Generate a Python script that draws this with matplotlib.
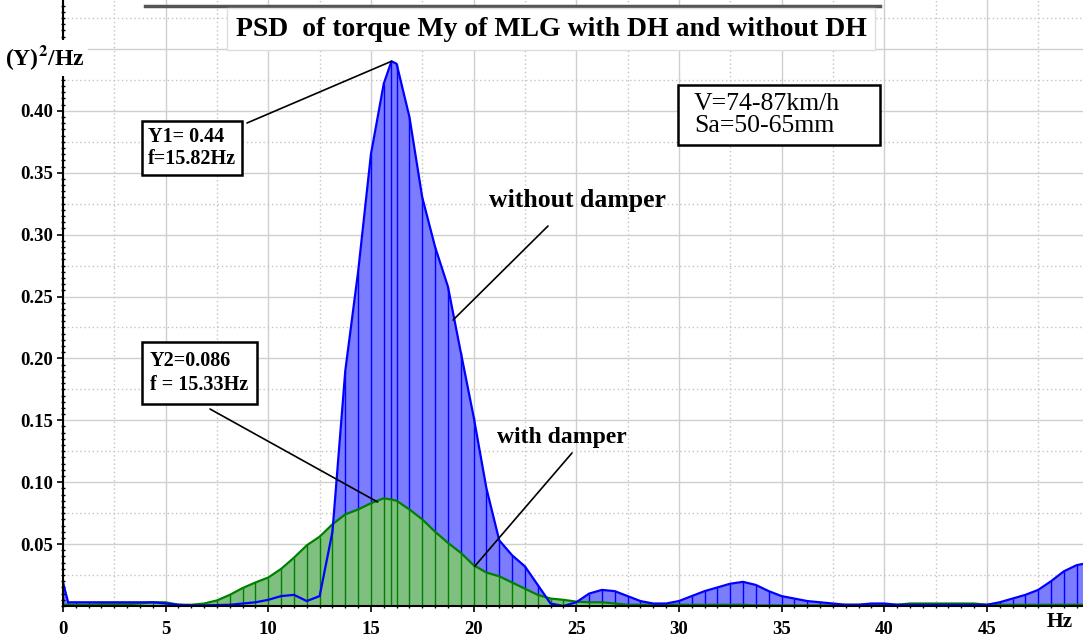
import numpy as np
import matplotlib
matplotlib.use("Agg")
import matplotlib.pyplot as plt
from matplotlib.ticker import MultipleLocator, FixedLocator
from matplotlib.lines import Line2D
from matplotlib.patches import Rectangle

plt.rcParams["font.family"] = ["Liberation Serif", "DejaVu Serif"]
plt.rcParams["mathtext.fontset"] = "stix"

# frequency grid (Hz) of the PSD samples
freq = [0.0, 0.25, 0.625, 1.25, 1.875, 2.5, 3.125, 3.75, 4.375, 5.0, 5.625,
        6.25, 6.875, 7.5, 8.125, 8.75, 9.375, 10.0, 10.625, 11.25, 11.875,
        12.5, 13.125, 13.75, 14.375, 15.0, 15.625, 16.0, 16.25, 16.875, 17.5,
        18.125, 18.75, 19.375, 20.0, 20.625, 21.25, 21.875, 22.5, 23.125, 23.75,
        24.375, 25.0, 25.625, 26.25, 26.875, 27.5, 28.125, 28.75, 29.375, 30.0,
        30.625, 31.25, 31.875, 32.5, 33.125, 33.75, 34.375, 35.0, 35.625, 36.25,
        36.875, 37.5, 38.125, 38.75, 39.375, 40.0, 40.625, 41.25, 41.875, 42.5,
        43.125, 43.75, 44.375, 45.0, 45.625, 46.25, 46.875, 47.5, 48.125, 48.75,
        49.375, 50.0]

# without damper
psd_no = [0.019, 0.003, 0.003, 0.003, 0.003, 0.003, 0.003, 0.003, 0.003, 0.002, 0.001,
          0.0005, 0.0005, 0.0008, 0.001, 0.002, 0.003, 0.005, 0.008, 0.009, 0.004,
          0.008, 0.06, 0.19, 0.27, 0.365, 0.422, 0.44, 0.438, 0.395, 0.33,
          0.29, 0.258, 0.205, 0.153, 0.095, 0.053, 0.041, 0.032, 0.017, 0.002,
          0.0, 0.003, 0.010, 0.013, 0.012, 0.008, 0.004, 0.002, 0.002, 0.004,
          0.008, 0.012, 0.015, 0.018, 0.0195, 0.017, 0.012, 0.008, 0.006, 0.004,
          0.003, 0.002, 0.001, 0.001, 0.002, 0.002, 0.001, 0.001, 0.001, 0.001,
          0.001, 0.001, 0.001, 0.001, 0.003, 0.006, 0.009, 0.013, 0.020, 0.028,
          0.033, 0.035]

# with damper
psd_da = [0.001, 0.001, 0.001, 0.001, 0.0015, 0.0015, 0.0015, 0.002, 0.003, 0.003, 0.001,
          0.001, 0.002, 0.0045, 0.009, 0.0145, 0.019, 0.023, 0.030, 0.039, 0.049,
          0.056, 0.066, 0.074, 0.078, 0.083, 0.087, 0.086, 0.085, 0.078, 0.070,
          0.060, 0.051, 0.043, 0.033, 0.027, 0.024, 0.019, 0.014, 0.009, 0.006,
          0.005, 0.0035, 0.003, 0.003, 0.002, 0.001, 0.001, 0.001, 0.001, 0.001,
          0.001, 0.001, 0.001, 0.001, 0.001, 0.0005, 0.0005, 0.0005, 0.0005, 0.0005,
          0.0005, 0.0005, 0.001, 0.001, 0.001, 0.001, 0.001, 0.002, 0.002, 0.002,
          0.002, 0.002, 0.002, 0.001, 0.001, 0.001, 0.001, 0.001, 0.001, 0.001,
          0.001, 0.001]

x_ticks = [0, 5, 10, 15, 20, 25, 30, 35, 40, 45]
y_ticks = [0.05, 0.10, 0.15, 0.20, 0.25, 0.30, 0.35, 0.40]

freq = np.array(freq)
psd_no = np.array(psd_no)
psd_da = np.array(psd_da)

W, H = 1083, 639
fig = plt.figure(figsize=(W / 100, H / 100), dpi=100)
ax = fig.add_axes([63 / W, 33 / H, 1020 / W, 606 / H])

def fx(px):
    return px / W

def fy(py):
    return 1 - py / H

# grid: solid at majors, dotted halfway
for v in x_ticks:
    ax.axvline(v, color="#cfcfcf", lw=1, zorder=0)
for v in np.arange(2.5, 50, 5):
    ax.axvline(v, color="#c4c4c4", lw=1, ls=(0, (1, 2)), zorder=0)
for v in np.arange(0.05, 0.5, 0.05):
    ax.axhline(v, color="#cfcfcf", lw=1, zorder=0)
for v in np.arange(0.025, 0.5, 0.05):
    ax.axhline(v, color="#c4c4c4", lw=1, ls=(0, (1, 2)), zorder=0)

# without damper
ax.fill_between(freq, 0, psd_no, color="#7c7cff", lw=0, zorder=1)
ax.vlines(freq, 0, psd_no, colors="#0000ff", lw=1, zorder=1.5)
# with damper
ax.fill_between(freq, 0, psd_da, color="#7fbf7f", lw=0, zorder=2)
ax.vlines(freq, 0, psd_da, colors="#008000", lw=1, zorder=2.5)
ax.plot(freq, psd_da, color="#008000", lw=1.6, zorder=3)
ax.plot(freq, psd_no, color="#0000ff", lw=1.6, zorder=4)

ax.set_xlim(0, 1020 / 20.53)
ax.set_ylim(0, 606 / 1238)

for s in ["top", "right"]:
    ax.spines[s].set_visible(False)
ax.spines["left"].set_linewidth(1.5)
ax.spines["bottom"].set_linewidth(1.5)
ax.spines["left"].set_zorder(6)
ax.spines["bottom"].set_zorder(6)

ax.xaxis.set_major_locator(FixedLocator(x_ticks))
ax.yaxis.set_major_locator(FixedLocator(y_ticks))
ax.xaxis.set_minor_locator(MultipleLocator(0.625))
ax.yaxis.set_minor_locator(MultipleLocator(0.005))
ax.set_xticklabels([str(v) for v in x_ticks])
ax.set_yticklabels(["%.2f" % v for v in y_ticks])
ax.tick_params(which="major", length=4, width=1.2, labelsize=13.5, pad=3)
ax.tick_params(axis="x", which="major", pad=7)
ax.tick_params(which="minor", length=2.5, width=1, direction="inout")
for lab in ax.get_xticklabels() + ax.get_yticklabels():
    lab.set_fontweight("bold")

# axis captions
fig.text(fx(5), fy(58), "(Y)$^{\\mathbf{2}}$/Hz", fontsize=17, fontweight="bold",
         ha="left", va="center", zorder=10,
         bbox=dict(boxstyle="square,pad=0.15", fc="white", ec="none"))
fig.text(fx(1060), fy(622), "Hz", fontsize=15.5, fontweight="bold", ha="center", va="center")

# title
fig.add_artist(Line2D([fx(145), fx(880)], [fy(6), fy(6)], color="#555555", lw=2.5))
fig.text(fx(551), fy(29), "PSD  of torque My of MLG with DH and without DH",
         fontsize=20, fontweight="bold", ha="center", va="center",
         bbox=dict(boxstyle="square,pad=0.3", fc="white", ec="#dddddd", lw=1))

# conditions box
fig.add_artist(Rectangle((fx(678), fy(145)), fx(880) - fx(678), fy(85) - fy(145),
                         transform=fig.transFigure, fc="white", ec="black", lw=1.8,
                         zorder=8))
fig.text(fx(694), fy(115), "V=74-87km/h\nSa=50-65mm", fontsize=18.5, ha="left", va="center",
         linespacing=1.05, zorder=9)

# peak annotations
i_no = int(np.argmax(psd_no))
i_da = int(np.argmax(psd_da))
ax.annotate("", xy=(freq[i_no], psd_no[i_no]), xycoords="data",
            xytext=(fx(247), fy(123)), textcoords="figure fraction",
            arrowprops=dict(arrowstyle="-", color="black", lw=1.2, shrinkA=0, shrinkB=0),
            zorder=7)
fig.text(fx(148), fy(148), "Y1= 0.44\nf=15.82Hz", fontsize=14.5, fontweight="bold",
         ha="left", va="center", linespacing=1.2,
         bbox=dict(boxstyle="square,pad=0.28", fc="white", ec="black", lw=1.8))

ax.annotate("", xy=(freq[i_da] - 0.3, psd_da[i_da] - 0.003), xycoords="data",
            xytext=(fx(210), fy(409)), textcoords="figure fraction",
            arrowprops=dict(arrowstyle="-", color="black", lw=1.2, shrinkA=0, shrinkB=0),
            zorder=7)
fig.text(fx(150), fy(373), "Y2=0.086\nf = 15.33Hz", fontsize=14.5, fontweight="bold",
         ha="left", va="center", linespacing=1.3,
         bbox=dict(boxstyle="square,pad=0.42", fc="white", ec="black", lw=1.8))

# curve labels
fig.text(fx(577), fy(200), "without damper", fontsize=18.5, fontweight="bold",
         ha="center", va="center")
ax.annotate("", xy=(19.0, 0.231), xycoords="data",
            xytext=(fx(548), fy(226)), textcoords="figure fraction",
            arrowprops=dict(arrowstyle="-", color="black", lw=1.2, shrinkA=0, shrinkB=0),
            zorder=7)
fig.text(fx(562), fy(437), "with damper", fontsize=17, fontweight="bold",
         ha="center", va="center")
ax.annotate("", xy=(20.05, 0.032), xycoords="data",
            xytext=(fx(572), fy(453)), textcoords="figure fraction",
            arrowprops=dict(arrowstyle="-", color="black", lw=1.2, shrinkA=0, shrinkB=0),
            zorder=7)

fig.savefig("out.png", dpi=100, facecolor="white")
